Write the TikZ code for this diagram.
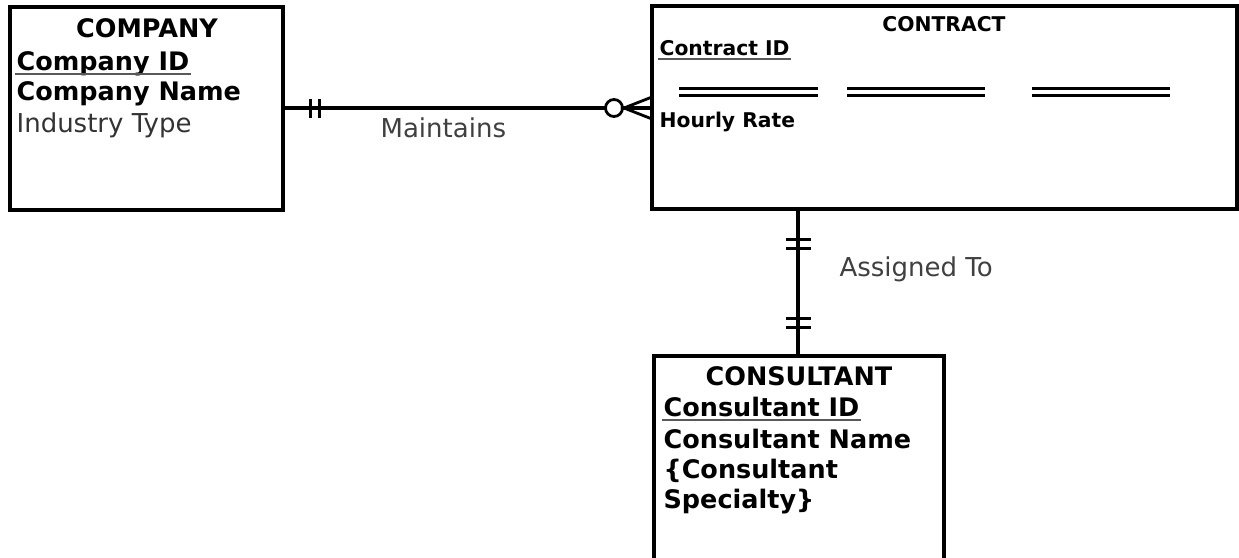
\documentclass[tikz,border=0pt]{standalone}
\usepackage{fontspec}
\setmainfont{DejaVu Sans}
\begin{document}
\begin{tikzpicture}[x=1pt,y=-1pt,line width=3.2pt,
  box/.style={draw,rectangle,inner sep=0pt},
  big/.style={font=\fontsize{25.5}{30}\selectfont\bfseries,inner sep=0pt,anchor=base west},
  bigreg/.style={font=\fontsize{26}{30}\selectfont,inner sep=0pt,anchor=base west,text=black!80},
  small/.style={font=\fontsize{20.3}{24}\selectfont\bfseries,inner sep=0pt,anchor=base west},
  ttl/.style={inner sep=0pt,anchor=base},
  uline/.style={draw=black!65,line width=2pt},
  bar/.style={line width=3pt},
  dbl/.style={line width=3pt}]
\useasboundingbox (0,0) rectangle (1239,557);
% entities
\node[box,minimum width=273pt,minimum height=203pt] (company) at (146.5,108.5) {};
\node[box,minimum width=585pt,minimum height=203pt] (contract) at (944.5,107.5) {};
\node[box,minimum width=290pt,minimum height=210pt] (consultant) at (799,461) {};
% COMPANY texts
\node[big,ttl] (cotitle) at (147,37) {COMPANY};
\node[big] (coid) at (15,70) {Company ID};
\draw[uline] ([yshift=-3.5pt]coid.base west) -- ([yshift=-3.5pt]coid.base east);
\node[big] (coname) at (15,100) {Company Name};
\node[bigreg] (coind) at (15,132) {Industry Type};
% CONTRACT texts
\node[small,ttl] (cttitle) at (944,31) {CONTRACT};
\node[small] (ctid) at (658,55) {Contract ID};
\draw[uline] ([yshift=-4pt]ctid.base west) -- ([yshift=-4pt]ctid.base east);
\node[small] (ctrate) at (658,127) {Hourly Rate};
\foreach \a/\b in {679/818,847/985,1032/1170}{
  \draw[dbl] (\a,88.5) -- (\b,88.5);
  \draw[dbl] (\a,95.5) -- (\b,95.5);
}
% CONSULTANT texts
\node[big,ttl] (cstitle) at (799,385) {CONSULTANT};
\node[big] (csid) at (662,416) {Consultant ID};
\draw[uline] ([yshift=-4pt]csid.base west) -- ([yshift=-4pt]csid.base east);
\node[big] (csname) at (662,448) {Consultant Name};
\node[big] (csspec1) at (662,478) {\{Consultant};
\node[big] (csspec2) at (662,508) {Specialty\}};
% Maintains relationship
\coordinate (m1) at (company.east |- 0,108);
\coordinate (m2) at (contract.west |- 0,108);
\draw (m1) -- (m2);
\draw[bar] (310,99) -- (310,118);
\draw[bar] (319,99) -- (319,118);
\draw[line width=2.8pt,fill=white] (614,108) circle (8.5pt);
\draw[line width=2.8pt] (652,97) -- (624,108) -- (652,119);
\node[bigreg,text=black!75] (maint) at (379,137) {Maintains};
% Assigned To relationship
\coordinate (a1) at (798,209);
\draw (a1) -- (a1 |- consultant.north);
\draw[bar] (786,239) -- (811,239);
\draw[bar] (786,248) -- (811,248);
\draw[bar] (786,318) -- (811,318);
\draw[bar] (786,327) -- (811,327);
\node[bigreg,text=black!75] (assigned) at (838,276) {Assigned To};
\end{tikzpicture}
\end{document}
